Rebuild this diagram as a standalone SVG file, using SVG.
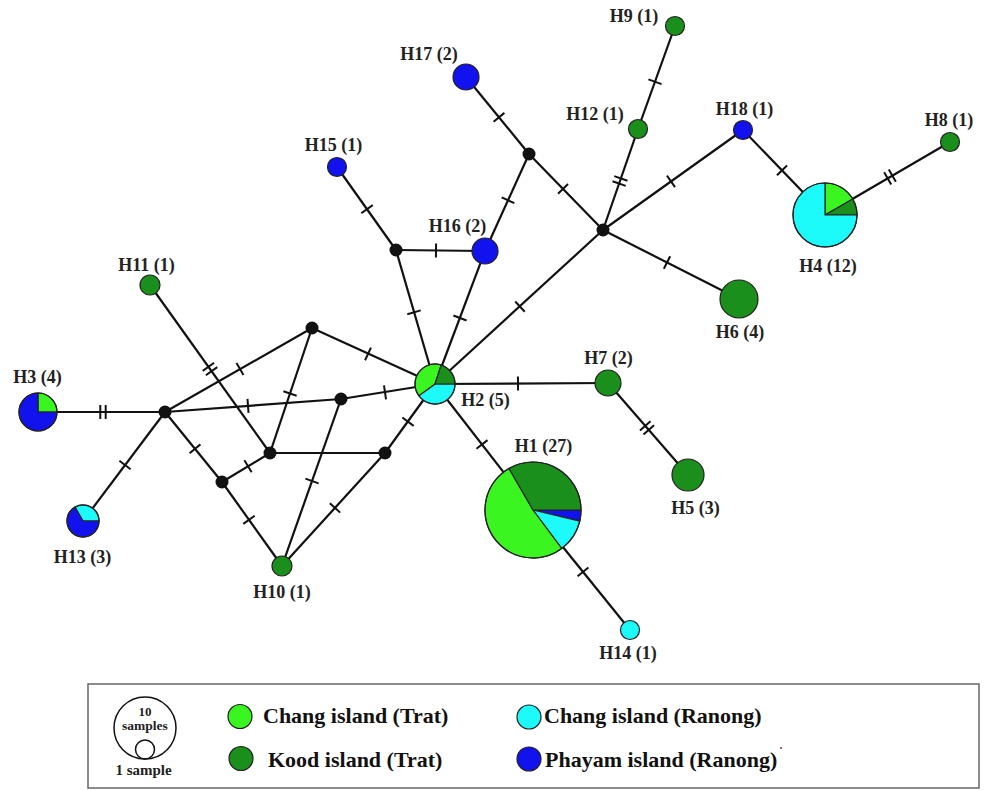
<svg xmlns="http://www.w3.org/2000/svg" xmlns:xlink="http://www.w3.org/1999/xlink" width="989" height="790" viewBox="0 0 989 790">
<style>
.e{stroke:#111;stroke-width:2.2;fill:none}
.t{stroke:#111;stroke-width:2;fill:none}
.n{stroke:#222;stroke-width:1.2}
.o{stroke:#222;stroke-width:1.2;fill:none}
.lg{fill:#3af520}.dg{fill:#1b8f1b}.cy{fill:#1cfafa}.bl{fill:#1212ee}
.j{fill:#111}
.lab{font-family:"Liberation Serif","Times New Roman",serif;font-weight:bold;font-size:18px;fill:#222;text-anchor:middle}
.leg{font-family:"Liberation Serif","Times New Roman",serif;font-weight:bold;font-size:22px;fill:#111}
.sm{font-family:"Liberation Serif","Times New Roman",serif;font-weight:bold;fill:#222;text-anchor:middle}
</style>
<defs>
<path id="t1" class="t" d="M0,-7V7"/>
<path id="t2" class="t" d="M-2.7,-7V7M2.7,-7V7"/>
</defs>
<rect width="989" height="790" fill="#fff"/>
<g id="connectors">
<g class="e">
<line x1="38" y1="412" x2="165" y2="412"/>
<line x1="165" y1="412" x2="83" y2="521"/>
<line x1="165" y1="412" x2="312" y2="328"/>
<line x1="165" y1="412" x2="341" y2="399"/>
<line x1="341" y1="399" x2="435" y2="384"/>
<line x1="165" y1="412" x2="222" y2="482"/>
<line x1="222" y1="482" x2="282" y2="566"/>
<line x1="222" y1="482" x2="270" y2="453"/>
<line x1="270" y1="453" x2="312" y2="328"/>
<line x1="270" y1="453" x2="385" y2="453"/>
<line x1="385" y1="453" x2="435" y2="384"/>
<line x1="385" y1="453" x2="282" y2="566"/>
<line x1="341" y1="399" x2="282" y2="566"/>
<line x1="312" y1="328" x2="435" y2="384"/>
<line x1="150" y1="285" x2="270" y2="453"/>
<line x1="396" y1="250" x2="337" y2="167"/>
<line x1="396" y1="250" x2="485" y2="251"/>
<line x1="396" y1="250" x2="435" y2="384"/>
<line x1="485" y1="251" x2="435" y2="384"/>
<line x1="485" y1="251" x2="529" y2="154"/>
<line x1="529" y1="154" x2="466" y2="77"/>
<line x1="529" y1="154" x2="603" y2="230"/>
<line x1="603" y1="230" x2="435" y2="384"/>
<line x1="603" y1="230" x2="638" y2="129"/>
<line x1="638" y1="129" x2="675" y2="26"/>
<line x1="603" y1="230" x2="743" y2="130"/>
<line x1="743" y1="130" x2="825" y2="215"/>
<line x1="825" y1="215" x2="950" y2="142"/>
<line x1="603" y1="230" x2="739" y2="299"/>
<line x1="435" y1="384" x2="608" y2="383"/>
<line x1="608" y1="383" x2="688" y2="475"/>
<line x1="435" y1="384" x2="533" y2="510"/>
<line x1="533" y1="510" x2="630" y2="630"/>
</g>
<use href="#t2" transform="translate(103,412) rotate(0)"/>
<use href="#t1" transform="translate(125,465) rotate(126.96)"/>
<use href="#t1" transform="translate(240,369) rotate(-29.74)"/>
<use href="#t1" transform="translate(248,405.9) rotate(-4.22)"/>
<use href="#t1" transform="translate(385,392.4) rotate(-8.47)"/>
<use href="#t1" transform="translate(195,448.8) rotate(50.84)"/>
<use href="#t1" transform="translate(249,519.8) rotate(54.46)"/>
<use href="#t1" transform="translate(248,466.3) rotate(-31.14)"/>
<use href="#t1" transform="translate(290,393.5) rotate(-71.43)"/>
<use href="#t1" transform="translate(408,421.7) rotate(-53.67)"/>
<use href="#t1" transform="translate(335,507.9) rotate(132.35)"/>
<use href="#t1" transform="translate(312,481) rotate(109.46)"/>
<use href="#t1" transform="translate(368,353.9) rotate(24.86)"/>
<use href="#t2" transform="translate(210,369) rotate(54.46)"/>
<use href="#t1" transform="translate(367,209.2) rotate(-125.4)"/>
<use href="#t1" transform="translate(436,250.5) rotate(0.64)"/>
<use href="#t1" transform="translate(414,312.3) rotate(73.89)"/>
<use href="#t1" transform="translate(460,318) rotate(110.46)"/>
<use href="#t1" transform="translate(508,200.3) rotate(-65.6)"/>
<use href="#t1" transform="translate(499,117.3) rotate(-129.3)"/>
<use href="#t1" transform="translate(563,188.9) rotate(45.76)"/>
<use href="#t1" transform="translate(520,306.6) rotate(137.3)"/>
<use href="#t2" transform="translate(620,181) rotate(-70.9)"/>
<use href="#t1" transform="translate(655,81.7) rotate(-70.24)"/>
<use href="#t1" transform="translate(671,181.4) rotate(-35.54)"/>
<use href="#t1" transform="translate(782,170.4) rotate(46.03)"/>
<use href="#t2" transform="translate(890,177) rotate(-30.28)"/>
<use href="#t1" transform="translate(667,262.5) rotate(26.9)"/>
<use href="#t1" transform="translate(518,383.5) rotate(-0.33)"/>
<use href="#t2" transform="translate(647,427.9) rotate(48.99)"/>
<use href="#t1" transform="translate(482,444.4) rotate(52.13)"/>
<use href="#t1" transform="translate(583,571.9) rotate(51.05)"/>
</g>
<g id="junctions" class="j">
<circle id="ja" cx="165" cy="412" r="6.5"/>
<circle id="jb" cx="312" cy="328" r="6.5"/>
<circle id="jc" cx="341" cy="399" r="6.5"/>
<circle id="jd" cx="270" cy="453" r="6.5"/>
<circle id="je" cx="385" cy="453" r="6.5"/>
<circle id="jf" cx="222" cy="482" r="6.5"/>
<circle id="jg" cx="396" cy="250" r="6.5"/>
<circle id="jh" cx="529" cy="154" r="6.5"/>
<circle id="ji" cx="603" cy="230" r="6.5"/>
</g>
<g id="H1">
<path class="n bl" d="M533,510 L581,510 A48,48 0 0 1 579.70,521.07 Z"/>
<path class="n cy" d="M533,510 L579.70,521.07 A48,48 0 0 1 561.69,548.49 Z"/>
<path class="n lg" d="M533,510 L561.69,548.49 A48,48 0 1 1 509,468.43 Z"/>
<path class="n dg" d="M533,510 L509,468.43 A48,48 0 0 1 581,510 Z"/>
<circle class="o" cx="533" cy="510" r="48"/>
<text class="lab" x="543.5" y="452">H1 (27)</text>
</g>
<g id="H2">
<path class="n cy" d="M435,384 L455,384 A20,20 0 0 1 418.82,395.76 Z"/>
<path class="n lg" d="M435,384 L418.82,395.76 A20,20 0 0 1 441.18,364.98 Z"/>
<path class="n dg" d="M435,384 L441.18,364.98 A20,20 0 0 1 455,384 Z"/>
<circle class="o" cx="435" cy="384" r="20"/>
<text class="lab" x="485.5" y="406">H2 (5)</text>
</g>
<g id="H3">
<path class="n lg" d="M38,412 L38,393 A19,19 0 0 1 57,412 Z"/>
<path class="n bl" d="M38,412 L57,412 A19,19 0 1 1 38,393 Z"/>
<circle class="o" cx="38" cy="412" r="19"/>
<text class="lab" x="37.5" y="383">H3 (4)</text>
</g>
<g id="H4">
<path class="n lg" d="M825,215 L825,183 A32,32 0 0 1 852.71,199 Z"/>
<path class="n dg" d="M825,215 L852.71,199 A32,32 0 0 1 857,215 Z"/>
<path class="n cy" d="M825,215 L857,215 A32,32 0 1 1 825,183 Z"/>
<circle class="o" cx="825" cy="215" r="32"/>
<text class="lab" x="828" y="272">H4 (12)</text>
</g>
<g id="H5"><circle class="n dg" cx="688" cy="475" r="16"/><text class="lab" x="695.5" y="514">H5 (3)</text></g>
<g id="H6"><circle class="n dg" cx="739" cy="299" r="19"/><text class="lab" x="740" y="338">H6 (4)</text></g>
<g id="H7"><circle class="n dg" cx="608" cy="383" r="13"/><text class="lab" x="608.5" y="364">H7 (2)</text></g>
<g id="H8"><circle class="n dg" cx="950" cy="142" r="9.5"/><text class="lab" x="949" y="126">H8 (1)</text></g>
<g id="H9"><circle class="n dg" cx="675" cy="26" r="9.5"/><text class="lab" x="634" y="22">H9 (1)</text></g>
<g id="H10"><circle class="n dg" cx="282" cy="566" r="10"/><text class="lab" x="282" y="598">H10 (1)</text></g>
<g id="H11"><circle class="n dg" cx="150" cy="285" r="10"/><text class="lab" x="146.5" y="271">H11 (1)</text></g>
<g id="H12"><circle class="n dg" cx="638" cy="129" r="9.5"/><text class="lab" x="595" y="120">H12 (1)</text></g>
<g id="H13">
<path class="n cy" d="M83,521 L75,507.14 A16,16 0 0 1 99,521 Z"/>
<path class="n bl" d="M83,521 L99,521 A16,16 0 1 1 75,507.14 Z"/>
<circle class="o" cx="83" cy="521" r="16"/>
<text class="lab" x="82.5" y="563">H13 (3)</text>
</g>
<g id="H14"><circle class="n cy" cx="630" cy="630" r="9.5"/><text class="lab" x="628" y="659">H14 (1)</text></g>
<g id="H15"><circle class="n bl" cx="337" cy="167" r="9.5"/><text class="lab" x="333.5" y="151">H15 (1)</text></g>
<g id="H16"><circle class="n bl" cx="485" cy="251" r="13"/><text class="lab" x="457.5" y="232">H16 (2)</text></g>
<g id="H17"><circle class="n bl" cx="466" cy="77" r="13"/><text class="lab" x="429" y="60">H17 (2)</text></g>
<g id="H18"><circle class="n bl" cx="743" cy="130" r="9.5"/><text class="lab" x="744.5" y="115">H18 (1)</text></g>
<g id="legend">
<rect x="88" y="684" width="891" height="104" fill="none" stroke="#666" stroke-width="1.5"/>
<circle cx="145" cy="728" r="31" fill="none" stroke="#111" stroke-width="1.5"/>
<circle cx="145" cy="749.5" r="9.5" fill="none" stroke="#111" stroke-width="1.5"/>
<text class="sm" x="145" y="716" font-size="13">10</text>
<text class="sm" x="145" y="730" font-size="13.5">samples</text>
<text class="sm" x="143.5" y="775" font-size="15">1 sample</text>
<circle class="n lg" cx="240" cy="716.5" r="12"/>
<circle class="n dg" cx="241" cy="758.5" r="12"/>
<circle class="n cy" cx="529" cy="717" r="12"/>
<circle class="n bl" cx="529" cy="759" r="12"/>
<text class="leg" x="263" y="723">Chang island (Trat)</text>
<text class="leg" x="268" y="767">Kood island (Trat)</text>
<text class="leg" x="544" y="723">Chang island (Ranong)</text>
<text class="leg" x="545" y="767">Phayam island (Ranong)</text>
<circle cx="781" cy="748" r="1" fill="#a22"/>
</g>
</svg>
